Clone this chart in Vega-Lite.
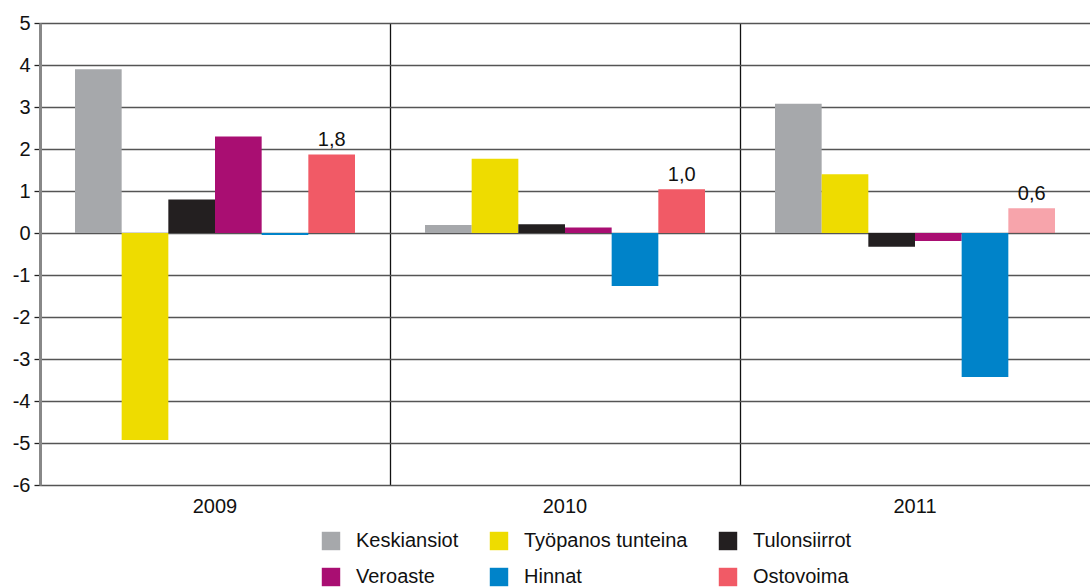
{
  "$schema": "https://vega.github.io/schema/vega-lite/v6.json",
  "width": 1050,
  "height": 462,
  "autosize": "none",
  "padding": {"left": 40, "top": 23, "right": 0, "bottom": 103},
  "config": {
    "view": {"stroke": null},
    "font": "Liberation Sans",
    "axis": {"labelFont": "Liberation Sans", "labelColor": "#111"},
    "legend": {"labelFont": "Liberation Sans"}
  },
  "data": {
    "values": [
      {"vuosi": "2009", "sarja": "Keskiansiot", "arvo": 3.9, "ennuste": false, "nimi": null},
      {"vuosi": "2009", "sarja": "Työpanos tunteina", "arvo": -4.93, "ennuste": false, "nimi": null},
      {"vuosi": "2009", "sarja": "Tulonsiirrot", "arvo": 0.8, "ennuste": false, "nimi": null},
      {"vuosi": "2009", "sarja": "Veroaste", "arvo": 2.3, "ennuste": false, "nimi": null},
      {"vuosi": "2009", "sarja": "Hinnat", "arvo": -0.05, "ennuste": false, "nimi": null},
      {"vuosi": "2009", "sarja": "Ostovoima", "arvo": 1.87, "ennuste": false, "nimi": "1,8"},
      {"vuosi": "2010", "sarja": "Keskiansiot", "arvo": 0.19, "ennuste": false, "nimi": null},
      {"vuosi": "2010", "sarja": "Työpanos tunteina", "arvo": 1.77, "ennuste": false, "nimi": null},
      {"vuosi": "2010", "sarja": "Tulonsiirrot", "arvo": 0.21, "ennuste": false, "nimi": null},
      {"vuosi": "2010", "sarja": "Veroaste", "arvo": 0.13, "ennuste": false, "nimi": null},
      {"vuosi": "2010", "sarja": "Hinnat", "arvo": -1.26, "ennuste": false, "nimi": null},
      {"vuosi": "2010", "sarja": "Ostovoima", "arvo": 1.04, "ennuste": false, "nimi": "1,0"},
      {"vuosi": "2011", "sarja": "Keskiansiot", "arvo": 3.08, "ennuste": false, "nimi": null},
      {"vuosi": "2011", "sarja": "Työpanos tunteina", "arvo": 1.4, "ennuste": false, "nimi": null},
      {"vuosi": "2011", "sarja": "Tulonsiirrot", "arvo": -0.33, "ennuste": false, "nimi": null},
      {"vuosi": "2011", "sarja": "Veroaste", "arvo": -0.19, "ennuste": false, "nimi": null},
      {"vuosi": "2011", "sarja": "Hinnat", "arvo": -3.43, "ennuste": false, "nimi": null},
      {"vuosi": "2011", "sarja": "Ostovoima", "arvo": 0.59, "ennuste": true, "nimi": "0,6"}
    ]
  },
  "encoding": {
    "x": {
      "field": "vuosi",
      "type": "nominal",
      "scale": {"paddingInner": 0.2, "paddingOuter": 0.1},
      "axis": {
        "title": null,
        "labelAngle": 0,
        "bandPosition": -0.125,
        "labelFontSize": 20,
        "labelPadding": 11,
        "ticks": false,
        "domain": false,
        "grid": true,
        "gridColor": {"condition": {"test": "datum.value === '2009'", "value": "transparent"}, "value": "#111"},
        "gridWidth": 1.3
      }
    },
    "xOffset": {
      "field": "sarja",
      "type": "nominal",
      "scale": {"domain": ["Keskiansiot", "Työpanos tunteina", "Tulonsiirrot", "Veroaste", "Hinnat", "Ostovoima"], "paddingInner": 0, "paddingOuter": 0}
    },
    "y": {
      "field": "arvo",
      "type": "quantitative",
      "scale": {"domain": [-6, 5], "nice": false},
      "axis": {
        "title": null,
        "values": [-6, -5, -4, -3, -2, -1, 0, 1, 2, 3, 4, 5],
        "labelExpr": "'' + datum.value",
        "labelFontSize": 20,
        "labelPadding": 4,
        "tickSize": 6,
        "tickColor": "#222",
        "tickWidth": 1.3,
        "domainColor": "#888",
        "domainWidth": 3,
        "gridColor": "#555",
        "gridWidth": 1.6
      }
    }
  },
  "layer": [
    {
      "mark": {"type": "bar"},
      "encoding": {
        "color": {
          "field": "sarja",
          "type": "nominal",
          "scale": {
            "domain": ["Keskiansiot", "Työpanos tunteina", "Tulonsiirrot", "Veroaste", "Hinnat", "Ostovoima"],
            "range": ["#A6A8AB", "#EEDC00", "#231F20", "#A90E72", "#0083C9", "#F15A66"]
          },
          "legend": {
            "title": null,
            "orient": "none",
            "legendX": 281,
            "legendY": 508,
            "direction": "horizontal",
            "columns": 3,
            "symbolType": "square",
            "symbolSize": 340,
            "symbolStrokeWidth": 0,
            "symbolOpacity": 1,
            "labelFontSize": 20,
            "labelLimit": 300,
            "labelColor": "#111",
            "labelOffset": 15,
            "columnPadding": 30,
            "rowPadding": 16,
            "padding": 0
          }
        },
        "opacity": {
          "field": "ennuste",
          "type": "nominal",
          "scale": {"domain": [false, true], "range": [1, 0.55]},
          "legend": null
        }
      }
    },
    {
      "transform": [{"filter": "datum.nimi != null"}],
      "mark": {"type": "text", "baseline": "bottom", "dy": -4, "fontSize": 20, "color": "#111"},
      "encoding": {
        "text": {"field": "nimi", "type": "nominal"}
      }
    }
  ]
}
